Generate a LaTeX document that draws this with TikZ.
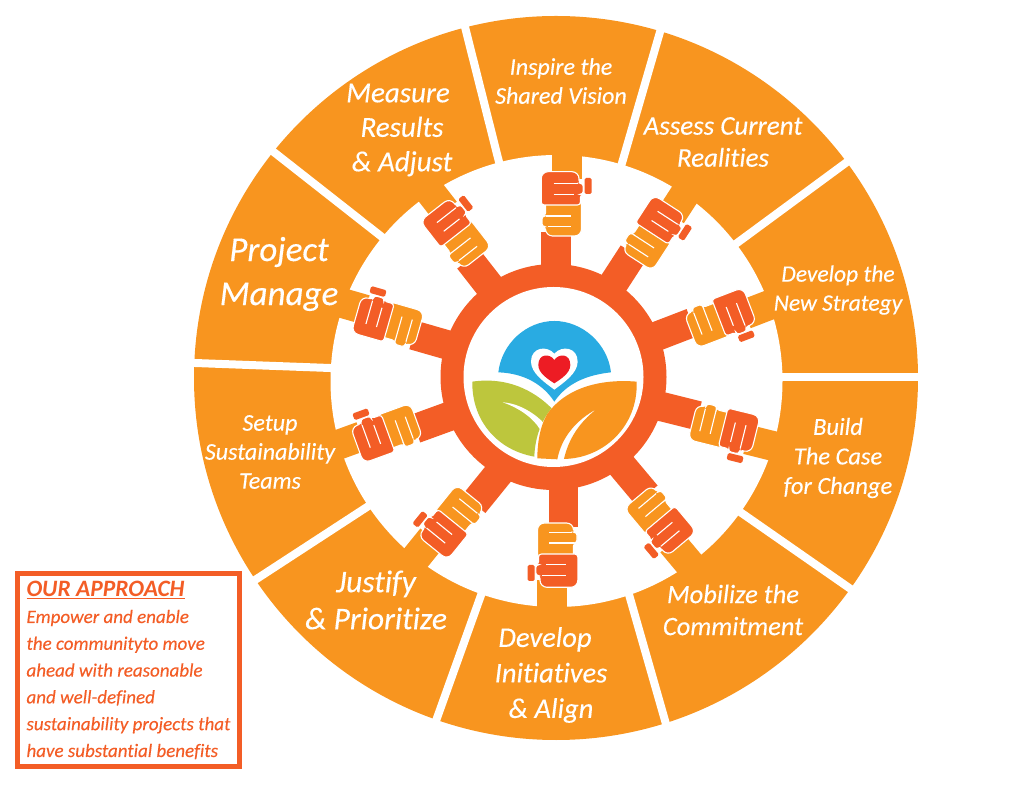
\documentclass[tikz,border=0pt]{standalone}
\usepackage{fontspec}
\setmainfont{Carlito}[Ligatures=NoCommon, ItalicFeatures={FakeBold=0.25}]
\usepackage{xcolor}
\definecolor{wheelorange}{HTML}{F8951F}
\definecolor{hubred}{HTML}{F35D26}
\definecolor{skyblue}{HTML}{29ABE2}
\definecolor{leafgreen}{HTML}{BDC63D}
\definecolor{heartred}{HTML}{ED1C24}
\usetikzlibrary{positioning}

\begin{document}
\begin{tikzpicture}[
    x=1pt, y=1pt,
    seglabel/.style={text=white, align=center, font=\itshape},
    gapline/.style={white, line width=8pt, shorten >=-10pt, shorten <=-10pt},
    fingerline/.style={white, line width=1.1pt},
    handpart/.style={draw=white, line width=1.1pt, rounded corners=3pt},
    clasp/.pic={
        % stems, the orange one goes to the wheel, the red one to the hub
        \fill[wheelorange] (-9.3,25) rectangle (20.5,62);
        \fill[hubred] (-20.3,-28) rectangle (9,-74);
        % inner hand
        \draw[handpart, fill=wheelorange] (20,2) [rounded corners=7pt] -- (20,-32) -- (-16,-32)
            [rounded corners=3pt] -- (-16,-22.7) -- (-19.5,-22.7) -- (-19.5,-12) -- (-16,-12) -- (-16,2) -- cycle;
        \draw[fingerline] (-16,-12) -- (9,-12);
        \draw[fingerline] (-14,-22.7) -- (9,-22.7);
        % outer hand
        \draw[handpart, fill=hubred] (-20.3,-1) [rounded corners=7pt] -- (-20.3,32.3) -- (17.5,32.3)
            [rounded corners=3pt] -- (17.5,20.7) -- (21.7,20.7) -- (21.7,9.7) -- (19,9.7) -- (19,-1) -- cycle;
        \draw[fingerline] (-8,20.7) -- (16,20.7);
        \draw[fingerline] (-8,9.7) -- (12,9.7);
        \fill[hubred, rounded corners=1.5pt] (23,26) rectangle (30,10);
    }
]
    \useasboundingbox (0,0) rectangle (1024,784);

    % wheel
    \fill[wheelorange] (556,406) circle (362);
    \foreach \xa/\ya/\xb/\yb in {466/753/499/622, 660/752/622/621, 847/622/737/541,
        918/407/783/407, 855/192/743/270, 666/60/630/186, 437/66/480/186,
        255/204/367/277, 195/421/330/416, 275/631/382/547}
        \draw[gapline] (\xa,\ya) -- (\xb,\yb);
    \fill[white] (556.5,403) circle (226);

    % hands
    \foreach \hx/\hy/\hang in {561.5/580/0, 653/551/-33, 720/466/-69, 724/356/-104,
        660/264/-140, 557.5/229/180, 452/262/141, 387/351/110, 388/462/74, 456/550/38}
        \pic[rotate=\hang] at (\hx,\hy) {clasp};

    % hub
    \fill[hubred] (553.5,407) circle (113);
    \fill[white] (553.5,407) circle (90);

    % logo, in the pixels of the crop
    \begin{scope}[shift={(430,524)}, x=0.3333pt, y=-0.3333pt]
        \fill[skyblue] (205,337) .. controls (215,250) and (290,183) .. (373,183)
            .. controls (456,183) and (533,250) .. (543,337)
            .. controls (470,345) and (410,370) .. (373,425)
            .. controls (340,375) and (285,340) .. (205,337) -- cycle;
        \fill[leafgreen] (127,365) .. controls (230,350) and (310,390) .. (365,445)
            .. controls (335,480) and (315,530) .. (313,590)
            .. controls (200,570) and (125,480) .. (127,365) -- cycle;
        \fill[white] (218,427) .. controls (270,430) and (320,465) .. (342,490)
            -- (330,508) .. controls (310,475) and (270,445) .. (218,427) -- cycle;
        \fill[wheelorange] (620,365) .. controls (500,355) and (400,390) .. (350,465)
            .. controls (330,500) and (322,550) .. (322,595) -- (382,598)
            .. controls (395,530) and (440,480) .. (500,447)
            .. controls (445,490) and (415,540) .. (402,597)
            .. controls (520,595) and (625,500) .. (620,365) -- cycle;
        \fill[white] (373,281) .. controls (350,255) and (303,262) .. (303,305)
            .. controls (303,340) and (345,368) .. (373,389)
            .. controls (401,368) and (443,340) .. (443,305)
            .. controls (443,262) and (396,255) .. (373,281) -- cycle;
        \fill[heartred] (373,300) .. controls (360,280) and (325,280) .. (325,315)
            .. controls (325,340) and (355,358) .. (373,370)
            .. controls (391,358) and (421,340) .. (421,315)
            .. controls (421,280) and (386,280) .. (373,300) -- cycle;
    \end{scope}

    % labels
    \node[seglabel, font=\itshape\fontsize{24}{29}\selectfont] (inspire) at (561,703) {Inspire the\\Shared Vision};
    \node[seglabel, font=\itshape\fontsize{27}{32}\selectfont] (assess) at (723,642) {Assess Current\\Realities};
    \node[seglabel, font=\itshape\fontsize{23.5}{29}\selectfont] (strategy) at (838,494) {Develop the\\New Strategy};
    \node[seglabel, font=\itshape\fontsize{24.5}{29.5}\selectfont] (build) at (838,326) {Build\\The Case\\for Change};
    \node[seglabel, font=\itshape\fontsize{26.5}{32}\selectfont] (mobilize) at (733,174) {Mobilize the\\Commitment};
    \node[seglabel, font=\itshape\fontsize{28.5}{35.5}\selectfont] (initiatives) at (551,109) {\hspace*{-12pt}Develop\\Initiatives\\\& Align};
    \node[seglabel, font=\itshape\fontsize{31.5}{37}\selectfont] (justify) at (376,184) {Justify\\\& Prioritize};
    \node[seglabel, font=\itshape\fontsize{24}{29}\selectfont] (setup) at (270,332) {Setup\\Sustainability\\Teams};
    \node[seglabel, font=\itshape\fontsize{35}{44}\selectfont] (project) at (279,510) {Project\\Manage};
    \node[seglabel, font=\itshape\fontsize{29}{34.5}\selectfont] (measure) at (402,654) {\hspace*{-8pt}Measure\\Results\\\& Adjust};

    % approach box
    \node[draw=hubred, line width=5pt, minimum width=222pt, minimum height=193pt, inner sep=0pt,
        align=left, text=hubred, font=\itshape\fontsize{19}{26.8}\selectfont] (approach) at (128.5,114)
        {{\bfseries\fontsize{23.5}{26.8}\selectfont\underline{OUR APPROACH}}\\Empower and enable\\the communityto move\\ahead with reasonable\\and well-defined\\sustainability projects that\\have substantial benefits};
\end{tikzpicture}
\end{document}
